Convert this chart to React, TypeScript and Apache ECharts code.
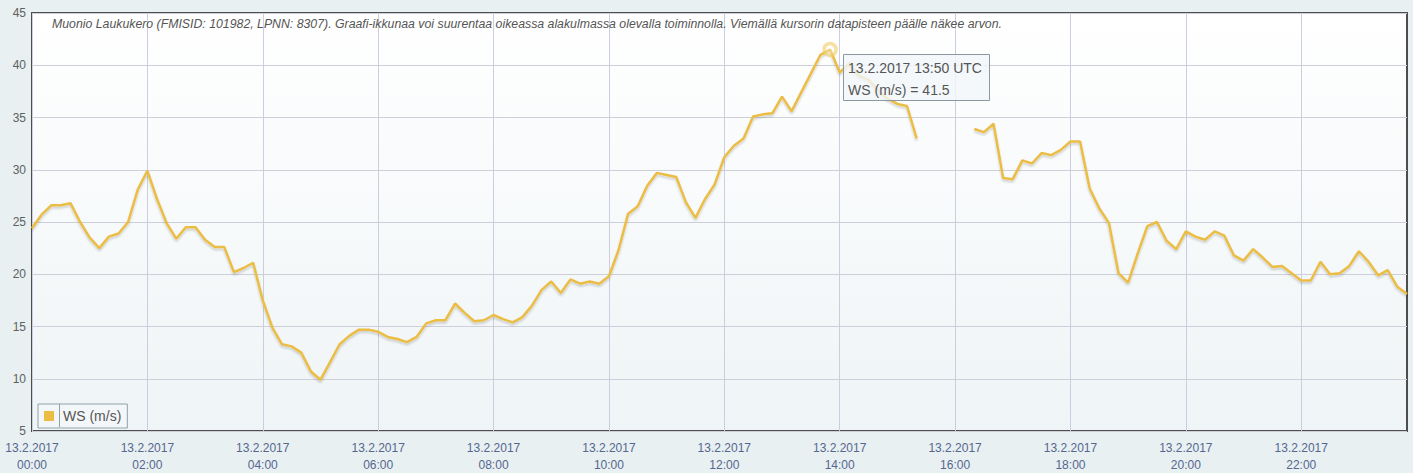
import React, { useEffect, useRef } from "react";
import * as echarts from "echarts";

const DATE_LABEL = "13.2.2017";
const STEP_MINUTES = 10;
const POINT_COUNT = 144;
const SERIES_NAME = "WS (m/s)";
const TITLE_TEXT =
  "Muonio Laukukero (FMISID: 101982, LPNN: 8307). Graafi-ikkunaa voi suurentaa oikeassa alakulmassa olevalla toiminnolla. Viemällä kursorin datapisteen päälle näkee arvon.";

const Y_MIN = 5;
const Y_MAX = 45;
const Y_INTERVAL = 5;
const LABEL_EVERY = 12; // every 2 hours
const HIGHLIGHT_INDEX = 83; // 13:50

// Wind speed (m/s), 10-minute steps from 00:00 to 23:50; null = missing
const WS_VALUES: (number | null)[] = [
  24.4, 25.7, 26.6, 26.6, 26.8, 25.0, 23.5, 22.5, 23.6, 23.9,
  25.0, 28.1, 29.9, 27.2, 24.9, 23.4, 24.5, 24.5, 23.3, 22.6,
  22.6, 20.2, 20.6, 21.1, 17.5, 14.9, 13.3, 13.1, 12.5, 10.7,
  9.9, 11.6, 13.3, 14.1, 14.7, 14.7, 14.5, 14.0, 13.8, 13.5,
  14.0, 15.3, 15.6, 15.6, 17.2, 16.3, 15.5,
  15.6, 16.1, 15.7, 15.4, 15.9, 17.0, 18.5, 19.3, 18.2, 19.5,
  19.1, 19.3, 19.1, 19.8, 22.3, 25.8, 26.5, 28.5, 29.7, 29.5,
  29.3, 26.9, 25.4,
  27.2, 28.6, 31.2, 32.3, 33.0, 35.1, 35.3, 35.4, 37.0, 35.6,
  37.4, 39.2, 41.0, 41.5, 39.3, 40.2, 39.0, 38.6, 37.6, 36.8,
  36.3, 36.1, 33.0,
  null, null, null, null, null,
  33.9, 33.6, 34.4, 29.2, 29.1, 30.9, 30.6, 31.6, 31.4, 31.9,
  32.7, 32.7, 28.2, 26.3, 24.9, 20.1, 19.2, 22.0, 24.6, 25.0,
  23.2,
  22.4, 24.1, 23.6, 23.3, 24.1, 23.7, 21.8, 21.3, 22.4, 21.6,
  20.7, 20.8, 20.1, 19.4, 19.4, 21.2, 20.0, 20.1, 20.8, 22.2,
  21.2, 19.9, 20.4, 18.8, 18.1,
];

const pad2 = (n: number) => String(n).padStart(2, "0");
const TIMES: string[] = Array.from({ length: POINT_COUNT }, (_, i) => {
  const m = i * STEP_MINUTES;
  return pad2(Math.floor(m / 60)) + ":" + pad2(m % 60);
});

const FONT = 'Arial, "Liberation Sans", sans-serif';
const LINE_COLOR = "#ecbd44";

export default function App() {
  const ref = useRef<HTMLDivElement>(null);

  useEffect(() => {
    if (!ref.current) return;
    const chart = echarts.init(ref.current, undefined, { renderer: "svg" });

    const option: any = {
      animation: false,
      backgroundColor: "#e8f0f2",
      textStyle: { fontFamily: FONT },
      title: {
        text: TITLE_TEXT,
        left: 52,
        top: 18,
        padding: 0,
        textStyle: {
          fontSize: 12.3,
          fontStyle: "italic",
          fontWeight: "normal",
          color: "#555555",
          fontFamily: FONT,
        },
      },
      legend: {
        left: 38,
        top: 404,
        padding: [5, 6, 5, 6],
        backgroundColor: "#f3f7f9",
        borderColor: "#8ea2a8",
        borderWidth: 1,
        borderRadius: 0,
        icon: "rect",
        itemWidth: 10,
        itemHeight: 10,
        selectedMode: false,
        textStyle: { fontSize: 14, color: "#555555", fontFamily: FONT, padding: [0, 0, 0, 4] },
        data: [{ name: SERIES_NAME, itemStyle: { color: LINE_COLOR } }],
      },
      grid: {
        left: 32,
        top: 13,
        right: 6,
        bottom: 40,
        show: true,
        borderColor: "#4d4d4d",
        borderWidth: 2,
        backgroundColor: new echarts.graphic.LinearGradient(0, 0, 0, 1, [
          { offset: 0, color: "#ffffff" },
          { offset: 1, color: "#eff4f6" },
        ]),
      },
      xAxis: {
        type: "category",
        data: TIMES,
        boundaryGap: false,
        axisLine: { show: false },
        axisTick: { show: false },
        axisLabel: {
          interval: LABEL_EVERY - 1,
          formatter: (v: string) => DATE_LABEL + "\n" + v,
          color: "#56668f",
          fontSize: 12,
          lineHeight: 17,
          margin: 8,
          fontFamily: FONT,
        },
        splitLine: {
          show: true,
          interval: LABEL_EVERY - 1,
          lineStyle: { color: "#cdcde0", width: 1 },
        },
      },
      yAxis: {
        type: "value",
        min: Y_MIN,
        max: Y_MAX,
        interval: Y_INTERVAL,
        axisLine: { show: false },
        axisTick: { show: false },
        axisLabel: { color: "#606060", fontSize: 12, margin: 6, fontFamily: FONT },
        splitLine: { lineStyle: { color: "#cdd0da", width: 1 } },
      },
      series: [
        {
          name: SERIES_NAME,
          type: "line",
          data: WS_VALUES,
          connectNulls: false,
          showSymbol: false,
          symbol: "none",
          color: LINE_COLOR,
          lineStyle: {
            color: LINE_COLOR,
            width: 2.5,
            shadowColor: "rgba(0,0,0,0.18)",
            shadowBlur: 2,
            shadowOffsetY: 2,
          },
          emphasis: { disabled: true },
          markPoint: {
            symbol: "circle",
            symbolSize: 12,
            silent: true,
            label: { show: false },
            itemStyle: {
              color: "rgba(255,255,255,0.3)",
              borderColor: "rgba(240,205,100,0.6)",
              borderWidth: 3.5,
            },
            data: [{ coord: [HIGHLIGHT_INDEX, WS_VALUES[HIGHLIGHT_INDEX]] }],
          },
          z: 3,
        },
      ],
    };
    chart.setOption(option);

    const legendDividerX = 59;
    const pt = chart.convertToPixel({ seriesIndex: 0 }, [
      HIGHLIGHT_INDEX,
      WS_VALUES[HIGHLIGHT_INDEX] as number,
    ]) as number[];
    const tipX = pt[0] + 13;
    const tipY = pt[1] + 4;

    chart.setOption({
      graphic: [
        {
          type: "line",
          shape: { x1: legendDividerX + 0.5, y1: 404, x2: legendDividerX + 0.5, y2: 427 },
          style: { stroke: "#8ea2a8", lineWidth: 1 },
          z: 100,
          silent: true,
        },
        {
          type: "rect",
          z: 200,
          silent: true,
          shape: { x: Math.round(tipX) + 0.5, y: Math.round(tipY) + 0.5, width: 146, height: 46 },
          style: { fill: "rgba(241,246,250,0.8)", stroke: "#8b98a2", lineWidth: 1 },
        },
        {
          type: "text",
          z: 201,
          silent: true,
          x: tipX + 5,
          y: tipY + 7,
          style: {
            text: `${DATE_LABEL} ${TIMES[HIGHLIGHT_INDEX]} UTC`,
            fontSize: 14,
            fill: "#555555",
            fontFamily: FONT,
          },
        },
        {
          type: "text",
          z: 201,
          silent: true,
          x: tipX + 5,
          y: tipY + 29,
          style: {
            text: `${SERIES_NAME} = ${WS_VALUES[HIGHLIGHT_INDEX]}`,
            fontSize: 14,
            fill: "#555555",
            fontFamily: FONT,
          },
        },
      ],
    });

    return () => chart.dispose();
  }, []);

  return (
    <div
      ref={ref}
      style={{ position: "absolute", left: 0, top: 0, width: 1413, height: 473 }}
    />
  );
}
